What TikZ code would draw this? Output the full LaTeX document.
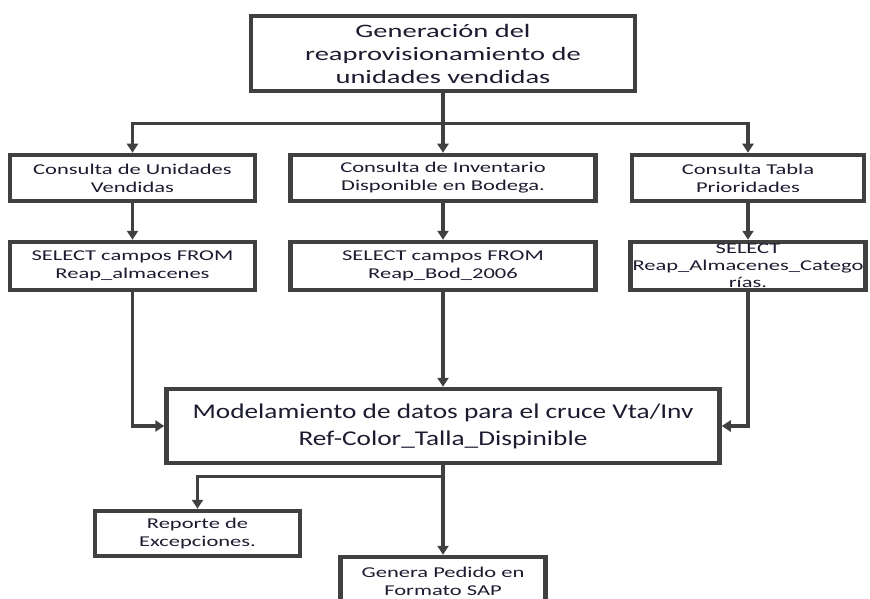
\documentclass[tikz,border=0pt]{standalone}
\usepackage{fontspec}
\setmainfont[FakeStretch=1.3]{Carlito}
\newfontfamily\wide[FakeStretch=1.5]{Carlito}
\usetikzlibrary{arrows.meta}
\definecolor{ln}{HTML}{404040}
\definecolor{tx}{HTML}{1C1C30}
\begin{document}
\begin{tikzpicture}[x=1pt,y=-1pt,
  box/.style={draw=ln,line width=4.5pt,fill=white,align=center,text=tx,inner sep=2pt,anchor=center},
  sm/.style={box,font=\wide\fontsize{15}{18}\selectfont},
  arr/.style={draw=ln,line width=3.2pt,-{Triangle[length=9pt,width=11pt]}},
  ln/.style={draw=ln,line width=3.2pt}]
\useasboundingbox (0,0) rectangle (870,599);
\node[box,minimum width=384,minimum height=75,font=\wide\fontsize{19}{23}\selectfont] (top) at (443,53.5)
  {Generación del\\reaprovisionamiento de\\unidades vendidas};
\node[sm,minimum width=245,minimum height=46] (c1) at (132.5,178) {Consulta de Unidades\\Vendidas};
\node[sm,minimum width=305,minimum height=46] (c2) at (443,178) {Consulta de Inventario\\Disponible en Bodega.};
\node[sm,minimum width=232,minimum height=46] (c3) at (748,178) {Consulta Tabla\\Prioridades};
\node[sm,minimum width=245,minimum height=48] (s1) at (132.5,266) {SELECT campos FROM\\Reap\_almacenes};
\node[sm,minimum width=305,minimum height=48] (s2) at (443,266) {SELECT campos FROM\\Reap\_Bod\_2006};
\node[sm,minimum width=232,minimum height=48,font=\wide\fontsize{15}{17}\selectfont] (s3) at (748,266) {SELECT\\Reap\_Almacenes\_Catego\\rías.};
\node[box,minimum width=553,minimum height=74,font=\fontsize{21}{27}\selectfont] (big) at (443,426)
  {Modelamiento de datos para el cruce Vta/Inv\\Ref-Color\_Talla\_Dispinible};
\node[sm,minimum width=205,minimum height=45] (rep) at (197.5,533.5) {Reporte de\\Excepciones.};
\node[sm,minimum width=205,minimum height=48] (gen) at (443,581) {Genera Pedido en\\Formato SAP};
\draw[ln] (top.south) -- ++(0,30) coordinate (j);
\draw[arr] (j) -| (c1.north);
\draw[arr] (j) -| (c3.north);
\draw[arr] (j) -- (c2.north);
\draw[arr] (c1) -- (s1);
\draw[arr] (c2) -- (s2);
\draw[arr] (c3) -- (s3);
\draw[arr] (s1.south) |- (big.west);
\draw[arr] (s3.south) |- (big.east);
\draw[arr] (s2.south) -- (big.north);
\draw[arr] (big.south) -- (gen.north);
\draw[arr] (big.south) -- ++(0,11) -| (rep.north);
\end{tikzpicture}
\end{document}
